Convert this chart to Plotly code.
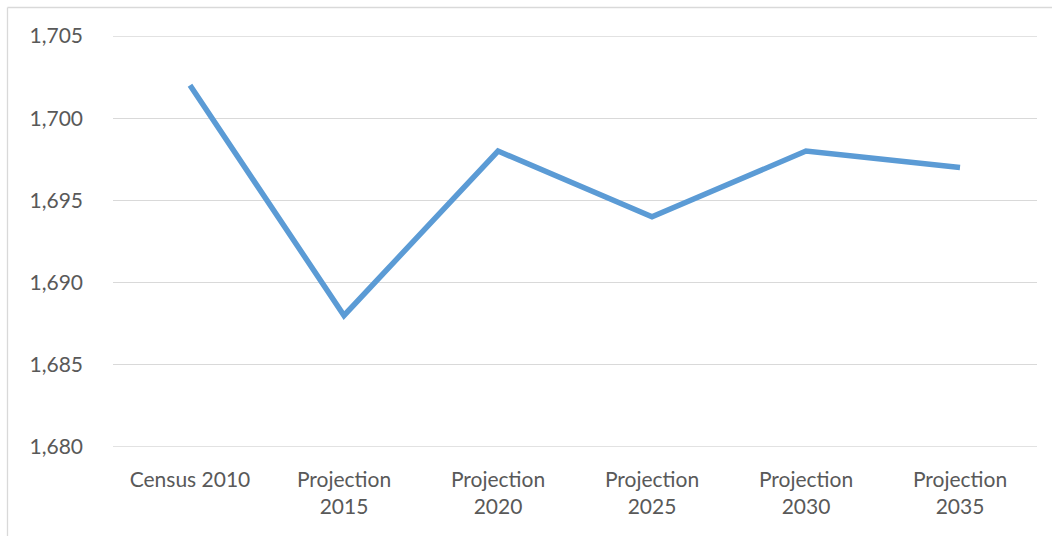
import plotly.graph_objects as go

categories = ["Census 2010", "Projection<br>2015", "Projection<br>2020",
              "Projection<br>2025", "Projection<br>2030", "Projection<br>2035"]
values = [1702, 1688, 1698, 1694, 1698, 1697]
y_ticks = [1680, 1685, 1690, 1695, 1700, 1705]
y_labels = ["1,680", "1,685", "1,690", "1,695", "1,700", "1,705"]

W, H = 1052, 536
L, R, T, B = 113, 15, 36, 89
pw, ph = W - L - R, H - T - B

def px_x(x):
    return (x - L) / pw

def px_y(y):
    return 1 - (y - T) / ph

GRID = "#d9d9d9"

fig = go.Figure()
fig.add_trace(go.Scatter(
    x=categories, y=values, mode="lines",
    line=dict(color="#5B9BD5", width=5.5),
    hoverinfo="x+y",
))

edge_lines = [
    dict(type="line", xref="paper", yref="y", x0=0, x1=1,
         y0=v, y1=v, line=dict(color=GRID, width=1.3), layer="below")
    for v in (y_ticks[0], y_ticks[-1])
]

fig.update_layout(
    width=W, height=H,
    margin=dict(l=L, r=R, t=T, b=B),
    paper_bgcolor="white", plot_bgcolor="white",
    showlegend=False,
    font=dict(family="Lato, Calibri, sans-serif", size=21, color="#595959"),
    xaxis=dict(
        type="category", range=[-0.5, 5.5],
        showgrid=False, zeroline=False, showline=False,
        ticks="", ticklen=0,
        tickfont=dict(size=21, color="#595959"),
        ticklabelstandoff=18,
    ),
    yaxis=dict(
        range=[y_ticks[0], y_ticks[-1]],
        tickvals=y_ticks, ticktext=y_labels,
        showgrid=True, gridcolor=GRID, gridwidth=1.3,
        zeroline=False, showline=False, ticks="",
        tickfont=dict(size=21, color="#595959"),
        ticklabelstandoff=29,
    ),
    shapes=edge_lines + [
        dict(type="line", xref="paper", yref="paper",
             x0=px_x(7.5), x1=px_x(7.5), y0=px_y(7.5), y1=px_y(560),
             line=dict(color=GRID, width=1.3)),
        dict(type="line", xref="paper", yref="paper",
             x0=px_x(7.5), x1=px_x(1070), y0=px_y(7.5), y1=px_y(7.5),
             line=dict(color=GRID, width=1.3)),
    ],
)

fig.write_html("out.html")
